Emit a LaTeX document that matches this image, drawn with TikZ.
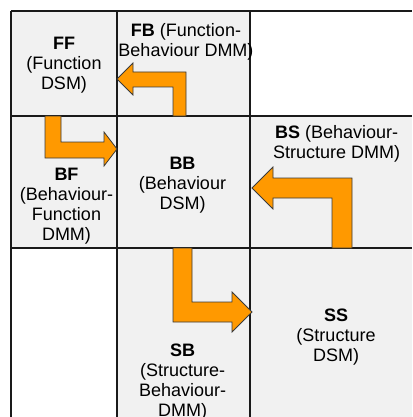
\documentclass[tikz,border=0pt]{standalone}
\usepackage{fontspec}
\setmainfont{Liberation Sans}
\definecolor{cellgray}{HTML}{F1F1F1}
\definecolor{gridline}{HTML}{1A1A1A}
\definecolor{arroworange}{HTML}{FF9900}
\definecolor{arrowedge}{HTML}{3A3A3A}
\begin{document}
\begin{tikzpicture}[x=1pt,y=-1pt,
  cell/.style={fill=cellgray},
  gridrule/.style={draw=gridline,line width=1.5pt},
  blockarrow/.style={fill=arroworange,draw=arrowedge,line width=0.8pt,line join=miter},
  lbl/.style={align=center,inner sep=0pt,text=black,font=\fontsize{18}{20}\selectfont}]
\useasboundingbox (0,0) rectangle (412,417);

% shaded matrix cells
\fill[cell] (11,11) rectangle (250,248);
\fill[cell] (250,116) rectangle (412,417);
\fill[cell] (117,248) rectangle (250,417);

% grid rules
\foreach \yy in {11,116,248} \draw[gridrule] (11,\yy) -- (412,\yy);
\foreach \xx in {11,117,250} \draw[gridrule] (\xx,11) -- (\xx,417);

% cell labels
\node[lbl] (ff) at (64,65.5) {\textbf{FF}\\(Function\\DSM)};
\node[lbl] (fb) at (186,41.5) {\textbf{FB} (Function-\\Behaviour DMM)};
\node[lbl] (bf) at (66.5,206.5) {\textbf{BF}\\(Behaviour-\\Function\\DMM)};
\node[lbl] (bb) at (182.5,184.7) {\textbf{BB}\\(Behaviour\\DSM)};
\node[lbl] (bs) at (336.7,144.3) {\textbf{BS} (Behaviour-\\Structure DMM)};
\node[lbl] (ss) at (336,337.2) {\textbf{SS}\\(Structure\\DSM)};
\node[lbl] (sb) at (182.7,382.4) {\textbf{SB}\\(Structure-\\Behaviour-\\DMM)};

% bent block arrows between the matrices
\draw[blockarrow] (173,116) -- (173,87) -- (133,87) -- (133,95) -- (117,79)
  -- (133,63) -- (133,72) -- (186,72) -- (186,116) -- cycle;
\draw[blockarrow] (45,116) -- (45,158) -- (104,158) -- (104,166) -- (117,149)
  -- (104,132) -- (104,142) -- (61,142) -- (61,116) -- cycle;
\draw[blockarrow] (332,248) -- (332,198) -- (273,198) -- (273,209) -- (252,188)
  -- (273,167) -- (273,178) -- (352,178) -- (352,248) -- cycle;
\draw[blockarrow] (173,248) -- (173,322) -- (232,322) -- (232,332) -- (252,312)
  -- (232,292) -- (232,302) -- (192,302) -- (192,248) -- cycle;
\end{tikzpicture}
\end{document}
